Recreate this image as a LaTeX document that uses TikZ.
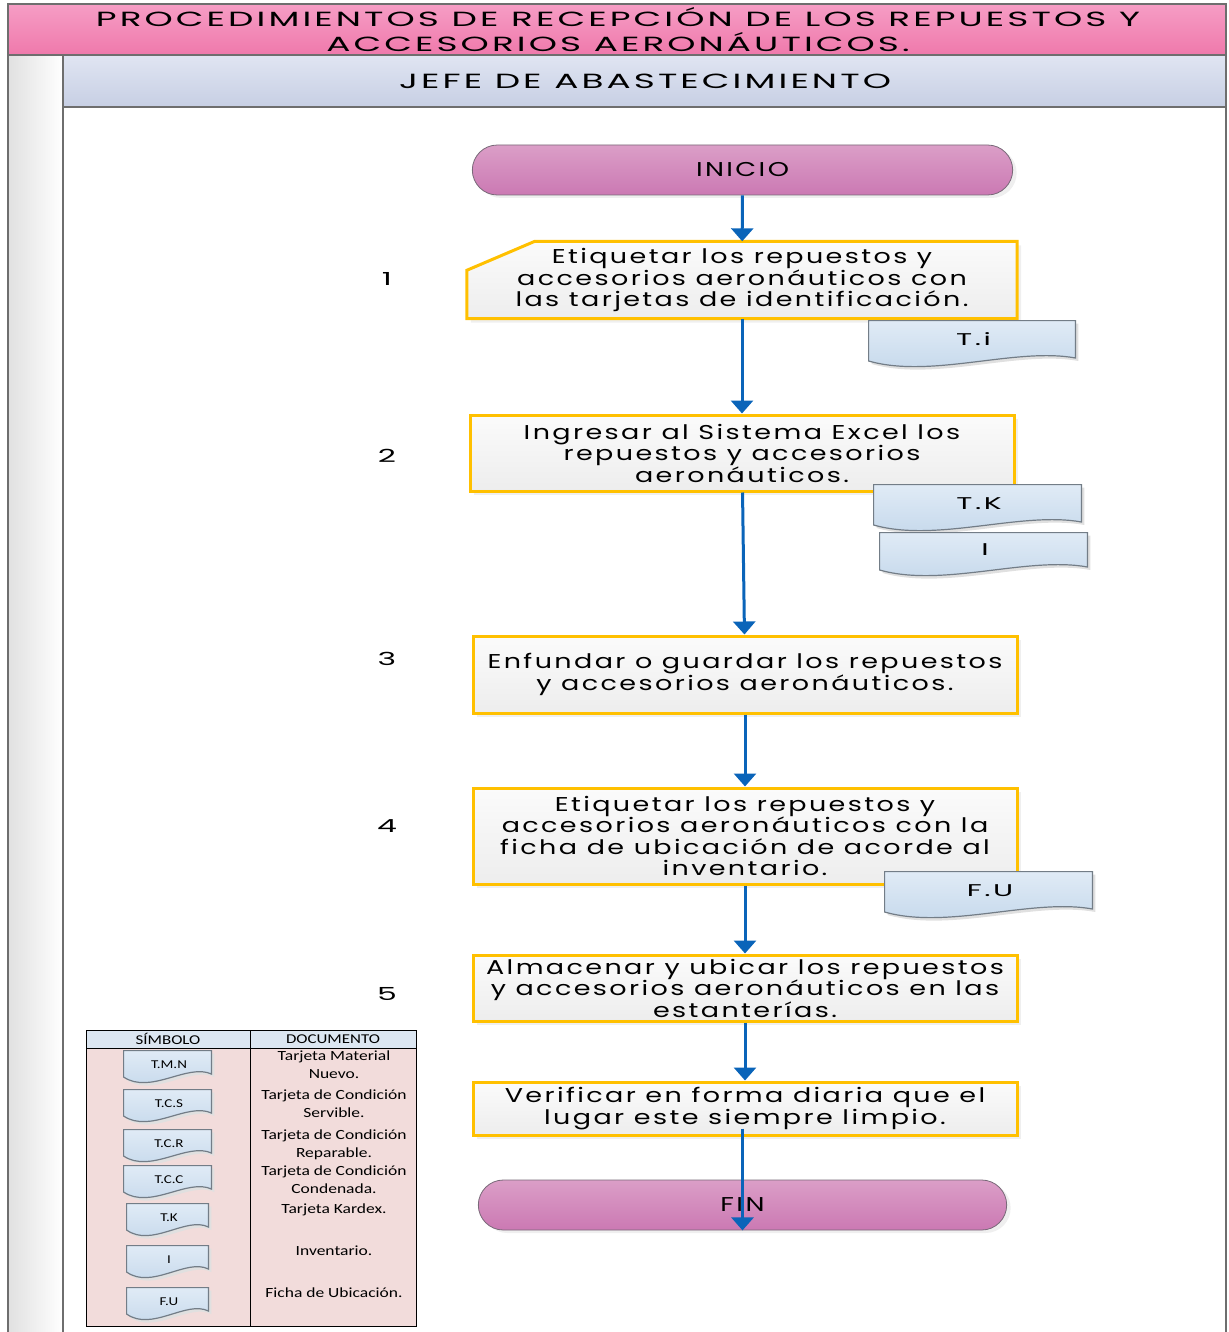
\documentclass[tikz,border=0pt]{standalone}
\usepackage{fontspec}
\setmainfont{Poppins}
\newfontfamily\gotica[FakeStretch=1.35,LetterSpace=12]{Poppins}
\newfontfamily\goticaancha[FakeStretch=1.75,LetterSpace=15]{Poppins}
\newfontfamily\calibri[FakeStretch=1.25]{Carlito}
\usetikzlibrary{shapes.misc,shadows,backgrounds,calc,arrows.meta}

\definecolor{rosaA}{RGB}{246,157,197}
\definecolor{rosaB}{RGB}{239,121,171}
\definecolor{celesteA}{RGB}{224,229,242}
\definecolor{celesteB}{RGB}{199,207,228}
\definecolor{marcogris}{RGB}{110,110,110}
\definecolor{termA}{RGB}{219,158,199}
\definecolor{termB}{RGB}{203,121,179}
\definecolor{termborde}{RGB}{120,105,120}
\definecolor{naranja}{RGB}{255,192,0}
\definecolor{cajaA}{RGB}{251,251,251}
\definecolor{cajaB}{RGB}{237,237,237}
\definecolor{docA}{RGB}{224,235,246}
\definecolor{docB}{RGB}{194,214,234}
\definecolor{docborde}{RGB}{115,125,135}
\definecolor{azul}{RGB}{10,100,185}
\definecolor{leyA}{RGB}{220,230,241}
\definecolor{leyB}{RGB}{242,220,219}

% contorno de documento (ondulado abajo), #1 = desplazamiento de la sombra
\newcommand{\trazodoc}[1]{($(dnw)+(#1+0.6,#1+0.6)$) -- ($(dne)+(#1-3.6,#1+0.6)$) -- ($(dse)+(#1-3.6,#1-12)$)
  .. controls ($(dsw)!0.7!(dse)+(#1,#1-23)$) and ($(dsw)!0.3!(dse)+(#1,#1+9)$) .. ($(dsw)+(#1+0.6,#1-9)$) -- cycle}

\tikzset{
  marco/.style={draw=marcogris,line width=2.5pt},
  titulo/.style={align=center,font=\goticaancha\fontsize{20.5}{25}\selectfont,inner sep=0pt},
  terminal/.style={rounded rectangle,draw=termborde,line width=0.8pt,top color=termA,bottom color=termB,
    minimum width=547pt,minimum height=50pt,font=\gotica\fontsize{20}{22}\selectfont,
    drop shadow={shadow xshift=4pt,shadow yshift=-3pt,fill=black!12}},
  actbox/.style={draw=naranja,line width=3pt,top color=cajaA,bottom color=cajaB,align=center,inner sep=0pt,
    minimum width=544pt,font=\gotica\fontsize{20}{21.5}\selectfont,
    drop shadow={shadow xshift=4pt,shadow yshift=-4pt,fill=black!12}},
  manualtxt/.style={align=center,inner sep=0pt,minimum width=550pt,minimum height=77pt,
    font=\gotica\fontsize{20}{21.5}\selectfont},
  manualbox/.style={draw=naranja,line width=3pt,top color=cajaA,bottom color=cajaB,
    drop shadow={shadow xshift=4pt,shadow yshift=-4pt,fill=black!12}},
  paso/.style={font=\goticaancha\fontsize{18}{21}\selectfont,inner sep=0pt},
  flecha/.style={-{Triangle[width=22pt,length=13pt]},line width=3pt,draw=azul},
  docnode/.style={rectangle,inner sep=0pt,text height=11pt,text depth=11pt,
    font=\goticaancha\fontsize{17}{20}\selectfont,
    path picture={
      \coordinate (dsw) at (path picture bounding box.south west);
      \coordinate (dse) at (path picture bounding box.south east);
      \coordinate (dnw) at (path picture bounding box.north west);
      \coordinate (dne) at (path picture bounding box.north east);
      \fill[black!12] \trazodoc{3};
      \shade[top color=docA,bottom color=docB,draw=docborde,line width=1.2pt] \trazodoc{0};
    }},
  leydoc/.style={docnode,font=\calibri\fontsize{12}{14}\selectfont,text height=6pt,text depth=6pt},
  leyhead/.style={font=\calibri\fontsize{13.5}{15}\selectfont,inner sep=0pt},
  leytext/.style={align=center,font=\calibri\fontsize{14}{18}\selectfont,inner sep=0pt},
  leyline/.style={draw=black,line width=0.9pt}
}

\begin{document}
\begin{tikzpicture}[x=1pt,y=-1pt]
\useasboundingbox (0,0) rectangle (1228,1332);

% marco y encabezados
\shade[left color=black!12,right color=white] (8,55) rectangle (63,1332);
\shade[top color=rosaA,bottom color=rosaB] (8,4) rectangle (1226,55);
\shade[top color=celesteA,bottom color=celesteB] (63,55) rectangle (1226,107);
\draw[marco] (8,1332) -- (8,4) -- (1226,4) -- (1226,1332);
\draw[marco] (8,55) -- (1226,55);
\draw[marco] (63,1332) -- (63,55);
\draw[marco] (63,107) -- (1226,107);

\node[titulo] (tit) at (618,30) {PROCEDIMIENTOS DE RECEPCIÓN DE LOS REPUESTOS Y\\ACCESORIOS AERONÁUTICOS.};
\node[titulo] (jefe) at (645,81) {JEFE DE ABASTECIMIENTO};

% numeros de paso
\node[paso] (p1) at (387,279) {1};
\node[paso] (p2) at (387,456) {2};
\node[paso] (p3) at (387,659) {3};
\node[paso] (p4) at (387,826) {4};
\node[paso] (p5) at (387,994) {5};

% diagrama
\node[terminal] (ini) at (742.5,170) {INICIO};

\node[manualtxt] (act1) at (742,280) {Etiquetar los repuestos y\\accesorios aeronáuticos con\\las tarjetas de identificación.};
\begin{pgfonlayer}{background}
  \draw[manualbox] (act1.south west) -- ($(act1.north west)+(0,29)$) -- ($(act1.north west)+(68,0)$)
    -- (act1.north east) -- (act1.south east) -- cycle;
\end{pgfonlayer}

\node[actbox,minimum height=76pt] (act2) at (742,453) {Ingresar al Sistema Excel los\\repuestos y accesorios\\aeronáuticos.};
\node[actbox,minimum height=77pt] (act3) at (745,674.5) {Enfundar o guardar los repuestos\\y accesorios aeronáuticos.};
\node[actbox,minimum height=96pt] (act4) at (745,836) {Etiquetar los repuestos y\\accesorios aeronáuticos con la\\ficha de ubicación de acorde al\\inventario.};
\node[actbox,minimum height=66pt] (act5) at (745,988) {Almacenar y ubicar los repuestos\\y accesorios aeronáuticos en las\\estanterías.};
\node[actbox,minimum height=53pt] (act6) at (745,1108.5) {Verificar en forma diaria que el\\lugar este siempre limpio.};

\node[terminal,minimum width=535pt] (fin) at (742.5,1205) {FIN};

% documentos
\node[docnode,minimum width=211pt,minimum height=50pt] (ti) at (973.5,345) {T.i};
\node[docnode,minimum width=212pt,minimum height=50pt] (tk) at (979,509) {T.K};
\node[docnode,minimum width=212pt,minimum height=47pt] (inv) at (985,555.5) {I};
\node[docnode,minimum width=212pt,minimum height=50pt] (fu) at (990,896) {F.U};

% flechas
\draw[flecha] (ini) -- (act1);
\draw[flecha] (act1) -- (act2);
\draw[flecha] (act2) -- (act3);
\draw[flecha] (act3) -- (act4);
\draw[flecha] (act4) -- (act5);
\draw[flecha] (act5) -- (act6);
\draw[flecha] ([yshift=8pt]fin.south |- act6.south) -- (fin.south);

% leyenda
\fill[leyA] (86,1030) rectangle (416,1048);
\node[leyhead] (hsim) at (168,1039) {SÍMBOLO};
\node[leyhead] (hdoc) at (333,1039) {DOCUMENTO};
\foreach \ya/\yb/\sym/\ancho/\doc [count=\i] in {
  1048/1087/T.M.N/92/{Tarjeta Material\\Nuevo.},
  1087/1127/T.C.S/92/{Tarjeta de Condición\\Servible.},
  1127/1163/T.C.R/92/{Tarjeta de Condición\\Reparable.},
  1163/1201/T.C.C/92/{Tarjeta de Condición\\Condenada.},
  1201/1243/T.K/86/{Tarjeta Kardex.},
  1243/1285/I/86/{Inventario.},
  1285/1326/F.U/86/{Ficha de Ubicación.}}{
  \fill[leyB] (86,\ya) rectangle (416,\yb);
  \node[leydoc,minimum width=\ancho pt,minimum height=36pt] (s\i) at (169,\ya+20) {\sym};
  \node[leytext,anchor=north] (d\i) at (334,\ya+3) {\doc};
  \draw[leyline] (86,\yb) -- (416,\yb);
}
\draw[leyline] (86,1030) rectangle (416,1326);
\draw[leyline] (250,1030) -- (250,1326);
\draw[leyline] (86,1048) -- (416,1048);

\end{tikzpicture}
\end{document}
